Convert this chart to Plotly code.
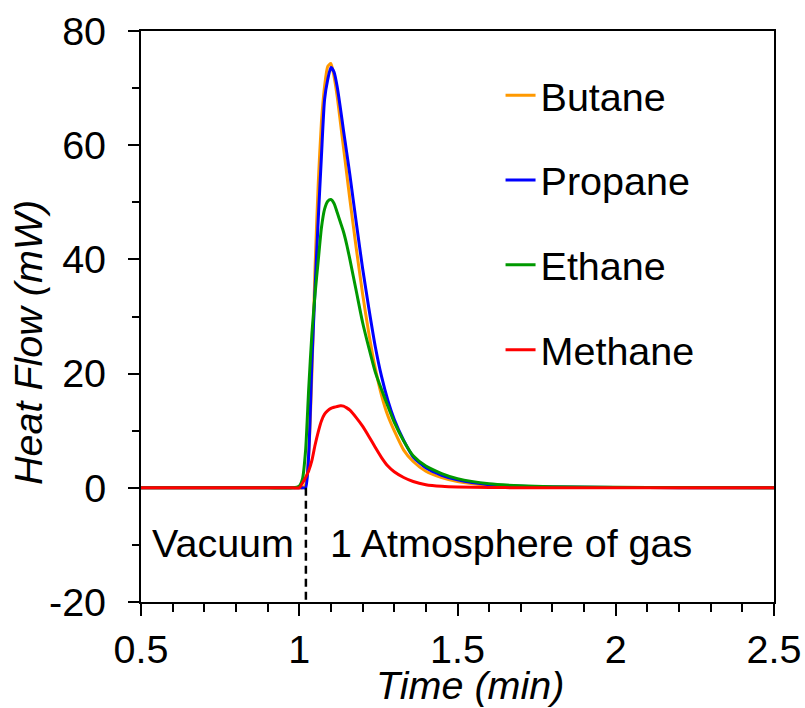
import plotly.graph_objects as go

# Time axis (min) shared by all four heat-flow traces
time_min = [0.5, 0.7, 0.9, 0.98, 1.0, 1.01, 1.02, 1.03, 1.04, 1.05, 1.06, 1.07, 1.08,
            1.09, 1.10, 1.11, 1.12, 1.13, 1.14, 1.15, 1.16, 1.18, 1.20, 1.22, 1.24,
            1.26, 1.28, 1.30, 1.33, 1.36, 1.40, 1.45, 1.50, 1.60, 1.70, 1.80, 2.0,
            2.2, 2.5]

# Heat flow (mW) for each gas
butane = [0, 0, 0, 0, 0, 0, 0.5, 6, 20, 38.7, 53.3, 64, 70.3,
          73.8, 74.3, 72, 68.5, 64, 59.5, 55, 50.5, 42, 34, 27, 21,
          16.2, 12.6, 10.0, 6.6, 4.6, 2.9, 1.8, 1.1, 0.45, 0.2, 0.1, 0.05,
          0.02, 0]
propane = [0, 0, 0, 0, 0, 0, 0, 6, 22, 35, 47, 58, 68,
           71.5, 73.6, 72.8, 70.2, 66.5, 62.5, 58.7, 54.8, 46.5, 38.5, 31.4, 24.8,
           19.5, 15.3, 12.0, 8.3, 5.4, 3.5, 2.2, 1.4, 0.55, 0.25, 0.12, 0.05,
           0.02, 0]
ethane = [0, 0, 0, 0, 0.3, 1.5, 6.5, 17.5, 27, 34, 39.8, 45.5, 48.8,
          50.2, 50.5, 49.8, 48.2, 46.5, 44.8, 42.6, 40, 34.5, 29, 24.5, 20.3,
          17.2, 14.3, 11.5, 8.2, 5.6, 3.8, 2.5, 1.6, 0.7, 0.35, 0.18, 0.08,
          0.04, 0.02]
methane = [0, 0, 0, 0, 0, 0.8, 1.8, 3.0, 4.8, 7.5, 9.8, 11.7, 12.9,
           13.5, 13.9, 14.1, 14.25, 14.35, 14.3, 14.0, 13.6, 12.3, 10.8, 9.0, 7.1,
           5.3, 3.8, 2.8, 1.8, 1.1, 0.55, 0.25, 0.12, 0.05, 0.02, 0, 0,
           0, 0]

series_names = ["Butane", "Propane", "Ethane", "Methane"]
series_values = [butane, propane, ethane, methane]
series_colors = ["#FF9900", "#0000FF", "#009900", "#FF0000"]

x_ticks = [0.5, 1, 1.5, 2, 2.5]
x_tick_text = ["0.5", "1", "1.5", "2", "2.5"]
y_ticks = [-20, 0, 20, 40, 60, 80]
y_tick_text = ["-20", "0", "20", "40", "60", "80"]

# Moment the gas is admitted (vacuum -> 1 atm)
switch_time = 1.021

FONT = "Liberation Sans, Arial, sans-serif"
FS = 39.5

fig = go.Figure()
for name, vals, col in zip(series_names, series_values, series_colors):
    fig.add_trace(go.Scatter(
        x=time_min, y=vals, mode="lines", name=name, legendgroup=name,
        line=dict(color=col, width=3, shape="spline", smoothing=0.6),
    ))

# dashed marker for the vacuum / gas switch
fig.add_shape(type="line", xref="x", yref="y", x0=switch_time, x1=switch_time,
              y0=0, y1=-20, line=dict(color="black", width=2.5, dash="8px,5px"))

fig.add_annotation(x=0.7575, y=-9.6, xref="x", yref="y", text="Vacuum",
                   xanchor="center", yanchor="middle", showarrow=False,
                   font=dict(family=FONT, size=FS, color="black"))
fig.add_annotation(x=1.6706, y=-9.6, xref="x", yref="y", text="1 Atmosphere of gas",
                   xanchor="center", yanchor="middle", showarrow=False,
                   font=dict(family=FONT, size=FS, color="black"))

# axis titles
fig.add_annotation(x=0.52, y=-0.146, xref="paper", yref="paper", text="<i>Time (min)</i>",
                   xanchor="center", yanchor="middle", showarrow=False,
                   font=dict(family=FONT, size=FS, color="black"))
fig.add_annotation(x=-0.1785, y=0.4536, xref="paper", yref="paper", text="<i>Heat Flow (mW)</i>",
                   xanchor="center", yanchor="middle", textangle=-90, showarrow=False,
                   font=dict(family=FONT, size=FS, color="black"))

fig.update_layout(
    width=805, height=708,
    margin=dict(l=141, r=31, t=31, b=106, autoexpand=False),
    paper_bgcolor="white", plot_bgcolor="white",
    font=dict(family=FONT, size=FS, color="black"),
    showlegend=True,
    legend=dict(x=0.568, y=0.944, xanchor="left", yanchor="top",
                traceorder="grouped", tracegroupgap=30.5,
                bgcolor="rgba(0,0,0,0)", font=dict(family=FONT, size=FS, color="black"),
                itemwidth=30),
    xaxis=dict(range=[0.5, 2.5], tickvals=x_ticks, ticktext=x_tick_text,
               automargin=False,
               ticks="outside", ticklen=12, tickwidth=2, tickcolor="black",
               showline=True, linewidth=2, linecolor="black", mirror=True,
               showgrid=False, zeroline=False, ticklabelstandoff=0,
               minor=dict(dtick=0.1, tick0=0.5, ticks="outside", ticklen=8,
                          tickwidth=2, tickcolor="black", showgrid=False)),
    yaxis=dict(range=[-20, 80], tickvals=y_ticks, ticktext=y_tick_text,
               automargin=False,
               ticks="outside", ticklen=11, tickwidth=2, tickcolor="black",
               showline=True, linewidth=2, linecolor="black", mirror=True,
               showgrid=False, zeroline=False, ticklabelstandoff=14,
               minor=dict(dtick=10, tick0=0, ticks="outside", ticklen=7,
                          tickwidth=2, tickcolor="black", showgrid=False)),
)

fig.write_html("out.html")
